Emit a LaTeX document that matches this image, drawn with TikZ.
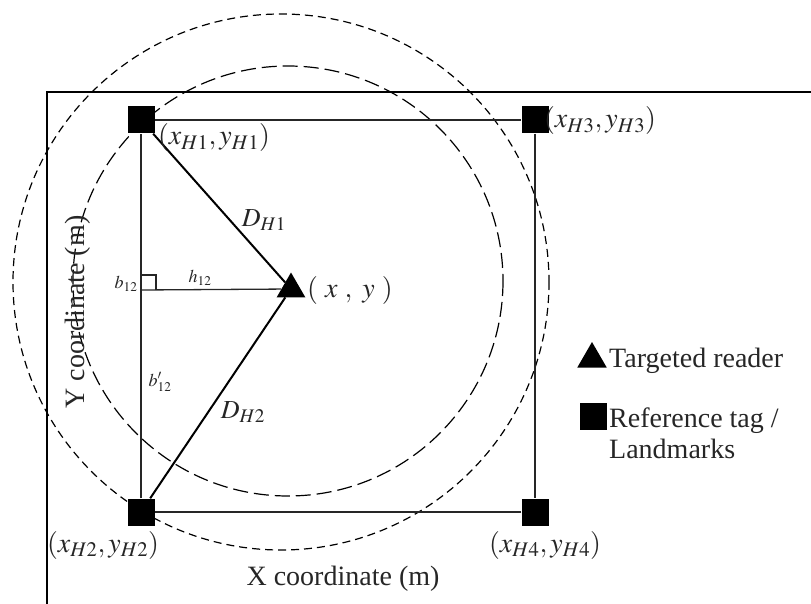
\documentclass[tikz,border=0pt]{standalone}
\usepackage{mathptmx}
\usepackage{fontspec}
\setmainfont{Liberation Serif}
\usetikzlibrary{shapes.geometric}

\begin{document}
\begin{tikzpicture}[x=1pt,y=-1pt,
  tag/.style={fill=black,minimum size=27pt,inner sep=0pt},
  reader/.style={regular polygon,regular polygon sides=3,fill=black,minimum size=33pt,inner sep=0pt},
  grid/.style={line width=1.3pt,black!85},
  dist/.style={line width=2pt},
  lbl/.style={inner sep=0pt,text=black!85,font=\fontsize{28}{31}\selectfont},
  sublbl/.style={inner sep=0pt,text=black!85,font=\fontsize{18}{20}\selectfont}]
  \useasboundingbox (0,0) rectangle (811,604);
  % frame
  \draw[line width=2pt] (47,604) -- (47,92) -- (811,92);
  % range circles
  \draw[line width=1.2pt,dash pattern=on 8pt off 5pt] (281,282) circle (268);
  \draw[line width=1.2pt,dash pattern=on 15pt off 6pt] (288,281) circle (215);
  % tags and reader
  \node[tag] (h1) at (141,120) {};
  \node[tag] (h3) at (535,120) {};
  \node[tag] (h2) at (141,512) {};
  \node[tag] (h4) at (535,512) {};
  \node[reader] (rd) at (291,289) {};
  \coordinate (foot) at (141,290);
  \draw[grid] (h1) -- (h3) -- (h4) -- (h2) -- (h1);
  \draw[dist] (h1) -- (rd) -- (h2);
  \draw[grid] (foot) -- (rd);
  \draw[grid] (141,275) -| (156,290);
  % labels
  \node[lbl] (l1) at (214,138) {$(x_{H1},y_{H1})$};
  \node[lbl] (l3) at (600,121) {$(x_{H3},y_{H3})$};
  \node[lbl] (l2) at (103,545) {$(x_{H2},y_{H2})$};
  \node[lbl] (l4) at (545,545) {$(x_{H4},y_{H4})$};
  \node[lbl] (lxy) at (350,290) {$(\ x\ ,\ y\ )$};
  \node[lbl,font=\fontsize{26}{28}\selectfont] (d1) at (264,220) {$D_{H1}$};
  \node[lbl,font=\fontsize{26}{28}\selectfont] (d2) at (243,412) {$D_{H2}$};
  \node[sublbl] (b1) at (126,284) {$b_{12}$};
  \node[sublbl] (hh) at (200,278) {$h_{12}$};
  \node[sublbl] (b2) at (160,382) {$b'_{12}$};
  \node[lbl] (xax) at (343,579) {X coordinate (m)};
  \node[lbl,rotate=90] (yax) at (78,312) {Y coordinate (m)};
  % legend
  \node[reader,minimum size=34pt] (kr) at (592,359) {};
  \node[tag] (kt) at (593,416) {};
  \node[lbl,anchor=base west] (kr1) at (609,367) {Targeted reader};
  \node[lbl,anchor=base west] (kt1) at (609,427) {Reference tag /};
  \node[lbl,anchor=base west] (kt2) at (609,458) {Landmarks};
\end{tikzpicture}
\end{document}
